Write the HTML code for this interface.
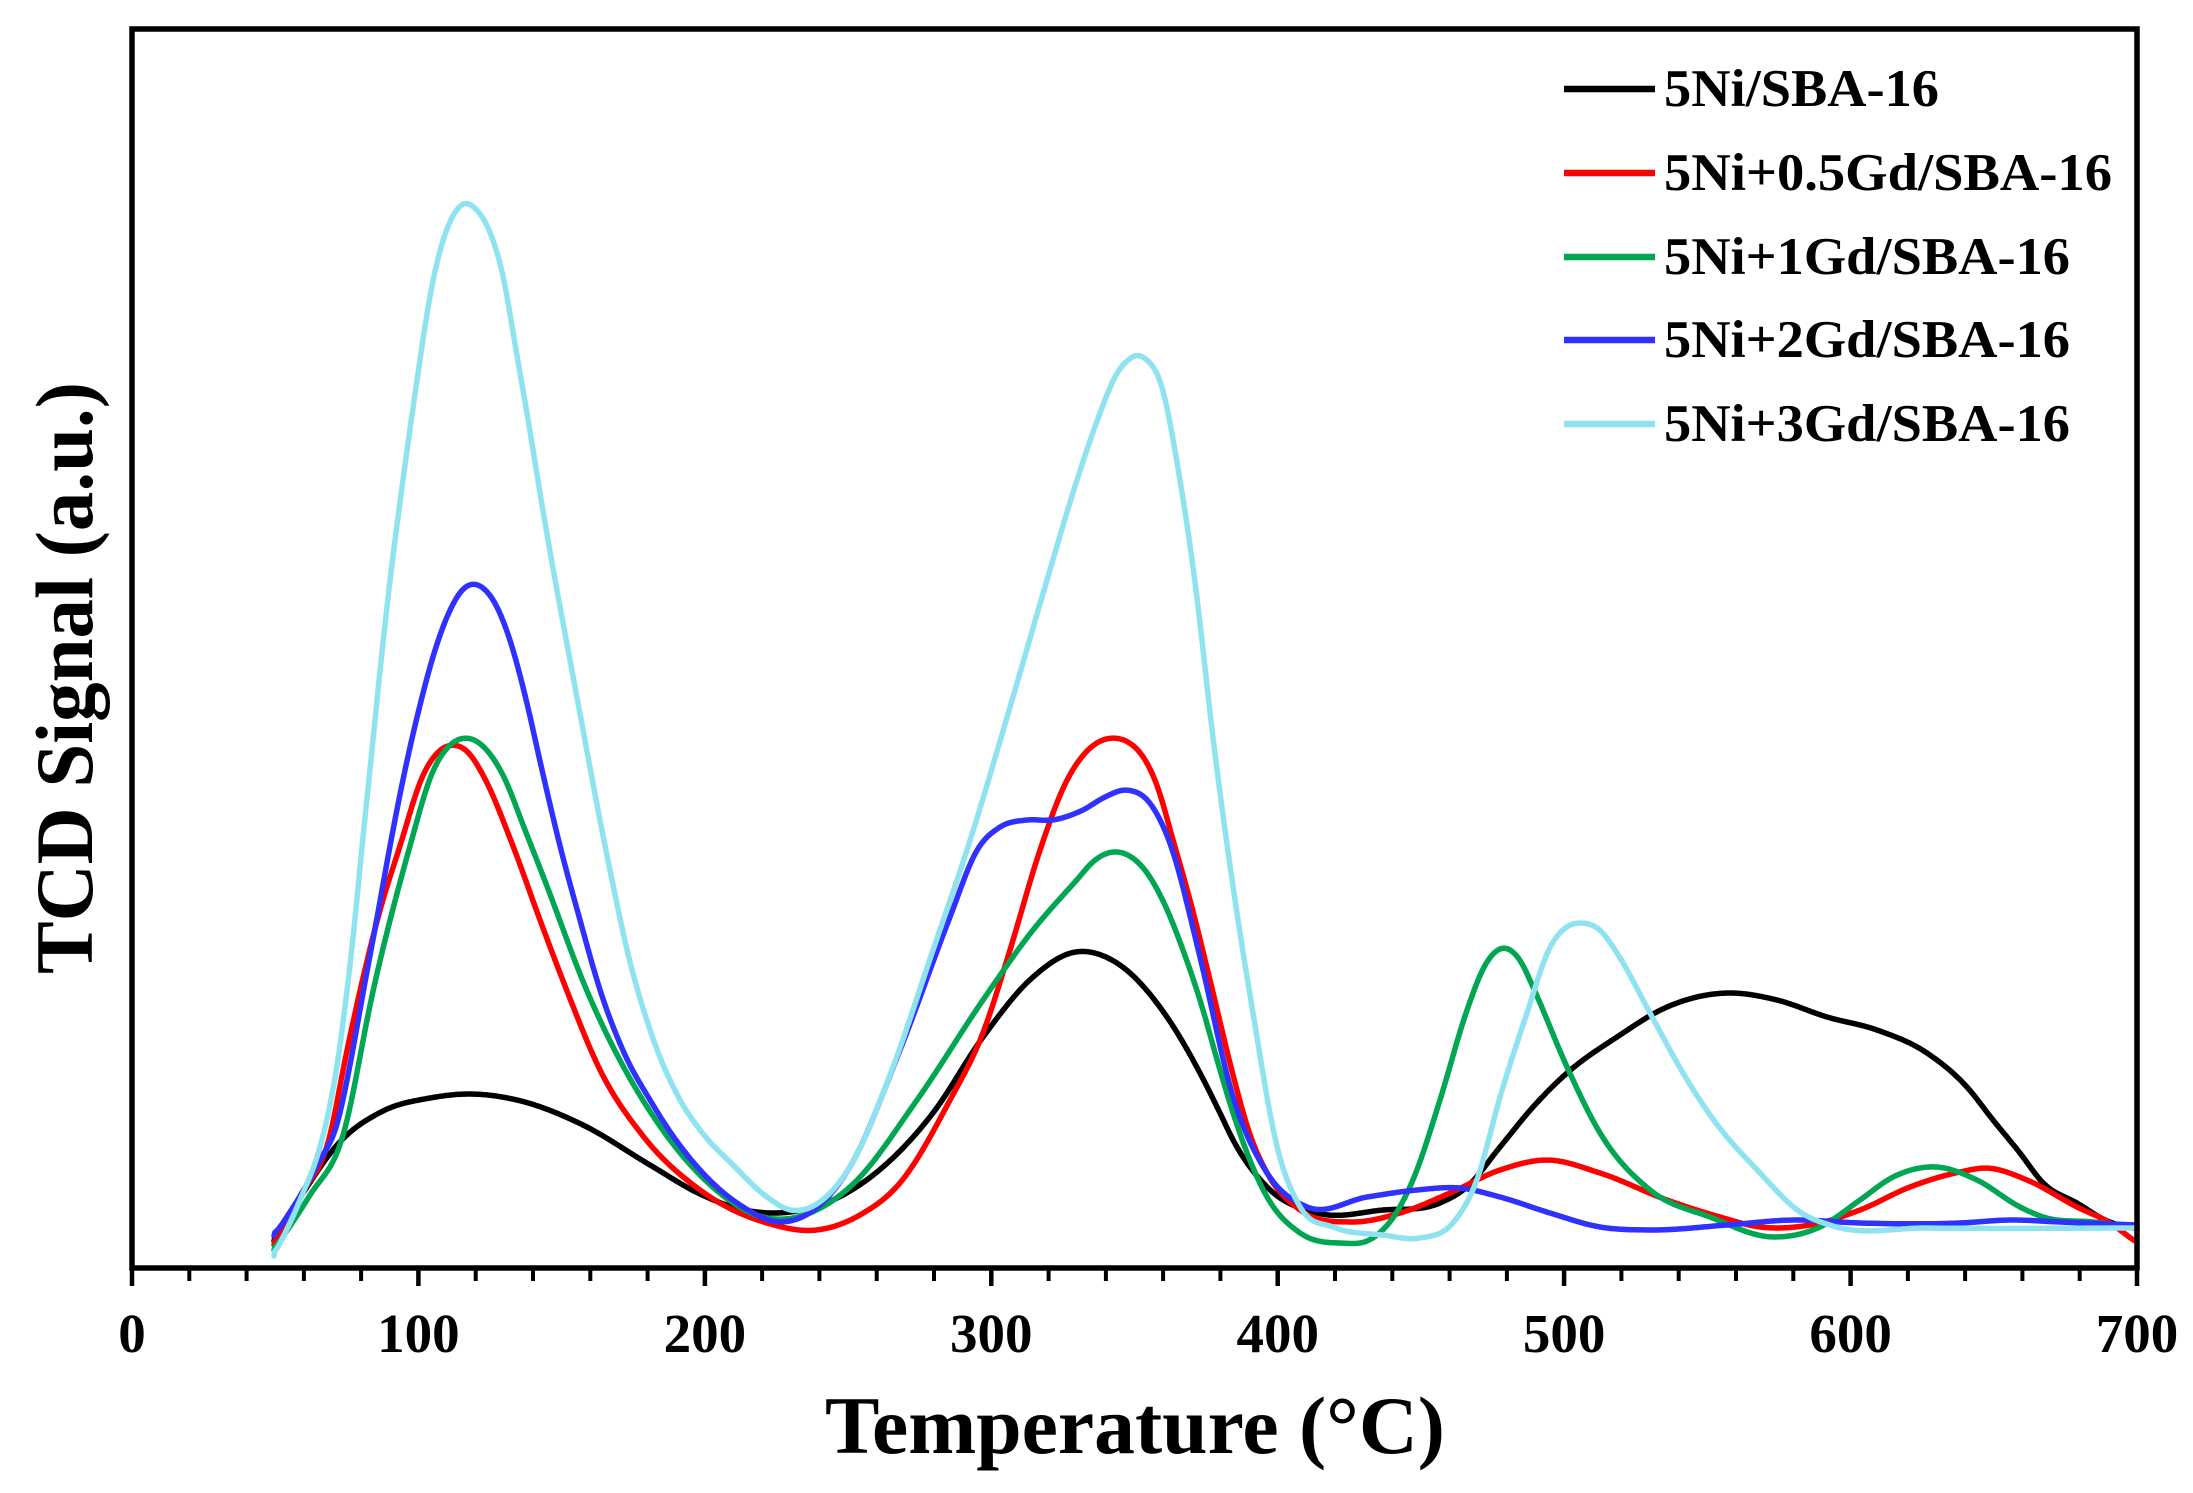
<!DOCTYPE html>
<html>
<head>
<meta charset="utf-8">
<style>
  html, body { margin: 0; padding: 0; background: #fff; }
  svg { display: block; }
  text { font-family: "Liberation Serif", "Times New Roman", serif; font-weight: bold; fill: #000; }
</style>
</head>
<body>
<svg id="chart" xmlns="http://www.w3.org/2000/svg" width="2193" height="1493" viewBox="0 0 2193 1493">
  <rect x="0" y="0" width="2193" height="1493" fill="#fff"/>

  <!-- curves -->
  <g fill="none" stroke-width="5.5" stroke-linejoin="round" stroke-linecap="round">
    <polyline class="crv" stroke="#000000" points="274,1241 305,1190 337,1145 383,1111 430,1098 467,1094 517,1100 583,1125 650,1165 700,1194 740,1209 777,1213 833,1200 883,1167 933,1113 983,1037 1033,977 1075,952 1117,963 1167,1017 1200,1073 1220,1113 1233,1140 1267,1187 1317,1213 1383,1210 1440,1203 1467,1187 1500,1147 1533,1107 1567,1073 1617,1037 1667,1007 1727,993 1777,1000 1827,1017 1877,1030 1927,1053 1967,1087 1993,1120 2020,1153 2043,1183 2077,1203 2107,1221 2137,1229"/>
    <polyline class="crv" stroke="#ff0000" points="274,1245 300,1196 330,1136 345,1060 360,991 380,910 400,846 423,775 438,752 453,745 468,752 483,775 513,846 540,920 567,991 600,1070 643,1136 700,1190 767,1223 817,1230 860,1215 900,1183 950,1100 983,1033 1010,950 1040,850 1067,780 1090,748 1113,738 1128,742 1142,755 1157,785 1173,840 1190,900 1210,980 1233,1075 1250,1135 1267,1173 1300,1210 1350,1222 1400,1213 1450,1193 1500,1170 1547,1160 1600,1173 1667,1200 1720,1217 1760,1227 1810,1225 1860,1210 1910,1187 1960,1172 1987,1168 2027,1180 2077,1207 2110,1223 2137,1243"/>
    <polyline class="crv" stroke="#00a651" points="274,1250 310,1195 343,1136 373,991 410,846 432,773 450,745 467,738 485,748 503,775 525,830 545,881 587,991 667,1136 700,1175 767,1218 850,1187 917,1100 983,1000 1033,930 1075,882 1095,860 1112,852 1128,855 1145,870 1165,905 1183,950 1200,1000 1220,1070 1233,1113 1267,1197 1300,1233 1340,1243 1373,1238 1395,1215 1413,1180 1440,1100 1467,1010 1485,965 1502,948 1520,960 1533,987 1567,1067 1600,1133 1650,1190 1710,1217 1773,1237 1820,1227 1860,1200 1893,1177 1937,1167 1977,1180 2020,1207 2043,1217 2093,1222 2137,1227"/>
    <polyline class="crv" stroke="#3030ff" points="274,1236 290,1212 305,1188 320,1160 337,1125 350,1065 363,993 377,918 390,846 405,770 420,705 435,650 450,610 462,590 472,584 482,587 495,603 510,640 525,695 542,770 560,846 580,920 600,990 625,1055 650,1100 673,1136 700,1170 740,1205 783,1222 820,1205 850,1167 900,1050 950,917 977,850 1000,827 1027,820 1053,820 1083,810 1105,797 1127,790 1150,803 1170,843 1200,957 1233,1097 1267,1173 1307,1207 1367,1197 1417,1190 1460,1188 1500,1197 1550,1213 1600,1227 1650,1230 1727,1225 1793,1220 1860,1223 1960,1223 2010,1220 2060,1222 2137,1225"/>
    <polyline class="crv" stroke="#8fe3f0" points="274,1256 300,1200 323,1136 338,1060 347,991 355,920 362,846 370,770 377,700 390,580 403,480 417,380 432,285 443,240 455,212 465,203 475,208 490,232 503,275 516,350 529,425 542,505 556,585 570,660 584,735 598,810 612,880 627,950 650,1030 680,1100 700,1130 733,1165 767,1197 790,1210 833,1190 850,1167 893,1067 933,950 967,850 1013,697 1047,580 1077,480 1100,413 1117,373 1128,360 1137,355 1147,360 1160,380 1180,480 1197,597 1212,730 1225,830 1235,900 1253,1013 1277,1147 1300,1207 1333,1227 1383,1235 1420,1238 1453,1223 1477,1180 1500,1097 1527,1013 1550,947 1565,928 1582,923 1600,930 1617,953 1650,1013 1683,1073 1710,1115 1760,1173 1800,1212 1833,1226 1927,1228 2137,1228"/>
  </g>

  <!-- frame -->
  <rect x="132" y="29" width="2005" height="1239" fill="none" stroke="#000" stroke-width="5.5"/>

  <!-- ticks -->
  <g id="ticks" stroke="#000" stroke-width="4"></g>

  <!-- tick labels -->
  <g font-size="55" text-anchor="middle">
    <text x="132" y="1352">0</text>
    <text x="418.4" y="1352">100</text>
    <text x="704.9" y="1352">200</text>
    <text x="991.3" y="1352">300</text>
    <text x="1277.7" y="1352">400</text>
    <text x="1564.1" y="1352">500</text>
    <text x="1850.6" y="1352">600</text>
    <text x="2137" y="1352">700</text>
  </g>

  <!-- axis titles -->
  <text x="1135" y="1453" font-size="82" text-anchor="middle" textLength="620" lengthAdjust="spacingAndGlyphs">Temperature (°C)</text>
  <text transform="translate(92,678) rotate(-90)" font-size="82" text-anchor="middle" textLength="592" lengthAdjust="spacingAndGlyphs">TCD Signal (a.u.)</text>

  <!-- legend -->
  <g stroke-width="6.5">
    <line x1="1564" y1="89" x2="1655" y2="89" stroke="#000000"/>
    <line x1="1564" y1="173" x2="1655" y2="173" stroke="#ff0000"/>
    <line x1="1564" y1="257" x2="1655" y2="257" stroke="#00a651"/>
    <line x1="1564" y1="340" x2="1655" y2="340" stroke="#3030ff"/>
    <line x1="1564" y1="424" x2="1655" y2="424" stroke="#8fe3f0"/>
  </g>
  <g font-size="53">
    <text x="1664" y="106" textLength="275" lengthAdjust="spacingAndGlyphs">5Ni/SBA-16</text>
    <text x="1664" y="190" textLength="448" lengthAdjust="spacingAndGlyphs">5Ni+0.5Gd/SBA-16</text>
    <text x="1664" y="274" textLength="406" lengthAdjust="spacingAndGlyphs">5Ni+1Gd/SBA-16</text>
    <text x="1664" y="357" textLength="406" lengthAdjust="spacingAndGlyphs">5Ni+2Gd/SBA-16</text>
    <text x="1664" y="441" textLength="406" lengthAdjust="spacingAndGlyphs">5Ni+3Gd/SBA-16</text>
  </g>
</svg>
<script>
(function(){
  var NS = "http://www.w3.org/2000/svg";
  // ticks
  var g = document.getElementById("ticks");
  var x0 = 132, sc = (2137 - 132) / 700;
  for (var t = 0; t <= 700; t += 20) {
    var x = x0 + t * sc;
    var major = (t % 100 === 0);
    var l = document.createElementNS(NS, "line");
    l.setAttribute("x1", x.toFixed(1));
    l.setAttribute("x2", x.toFixed(1));
    l.setAttribute("y1", "1268");
    l.setAttribute("y2", major ? "1286" : "1281");
    l.setAttribute("stroke-width", major ? "4.5" : "4");
    g.appendChild(l);
  }
  // cubic Hermite interpolation in x at 1px, then light Gaussian smoothing
  var sigma = 3, R = 9;
  var w = [];
  for (var k = -R; k <= R; k++) w.push(Math.exp(-k * k / (2 * sigma * sigma)));
  var pls = Array.prototype.slice.call(document.querySelectorAll("polyline.crv"));
  pls.forEach(function(pl){
    var pts = pl.getAttribute("points").trim().split(/\s+/).map(function(s){
      var a = s.split(","); return [parseFloat(a[0]), parseFloat(a[1])];
    });
    var N = pts.length, m = [];
    for (var i = 0; i < N; i++) {
      if (i === 0) m.push((pts[1][1] - pts[0][1]) / (pts[1][0] - pts[0][0]));
      else if (i === N - 1) m.push((pts[N-1][1] - pts[N-2][1]) / (pts[N-1][0] - pts[N-2][0]));
      else {
        var d0 = (pts[i][1] - pts[i-1][1]) / (pts[i][0] - pts[i-1][0]);
        var d1 = (pts[i+1][1] - pts[i][1]) / (pts[i+1][0] - pts[i][0]);
        var h0 = pts[i][0] - pts[i-1][0], h1 = pts[i+1][0] - pts[i][0];
        m.push((d0 * h1 + d1 * h0) / (h0 + h1));
      }
    }
    var xs = [], ys = [];
    var j = 0;
    var xa = pts[0][0], xb = pts[N - 1][0];
    for (var x = xa; x <= xb; x += 1) {
      while (j < N - 2 && pts[j + 1][0] < x) j++;
      var p1 = pts[j], p2 = pts[j + 1];
      var h = p2[0] - p1[0];
      var t = (x - p1[0]) / h;
      if (t < 0) t = 0; if (t > 1) t = 1;
      var t2 = t * t, t3 = t2 * t;
      var h00 = 2*t3 - 3*t2 + 1, h10 = t3 - 2*t2 + t, h01 = -2*t3 + 3*t2, h11 = t3 - t2;
      var y = h00 * p1[1] + h10 * h * m[j] + h01 * p2[1] + h11 * h * m[j + 1];
      xs.push(x); ys.push(y);
    }
    var n = ys.length, sm = [];
    for (var i = 0; i < n; i++) {
      var s = 0, ws = 0;
      for (var k = -R; k <= R; k++) {
        var ii = i + k;
        if (ii < 0 || ii >= n) continue;
        s += ys[ii] * w[k + R]; ws += w[k + R];
      }
      sm.push(s / ws);
    }
    sm[0] = ys[0]; sm[n - 1] = ys[n - 1];
    var d = "M" + xs[0] + "," + sm[0].toFixed(1);
    for (var i = 1; i < n; i++) d += " L" + xs[i] + "," + sm[i].toFixed(1);
    var p = document.createElementNS(NS, "path");
    p.setAttribute("d", d);
    p.setAttribute("stroke", pl.getAttribute("stroke"));
    pl.parentNode.replaceChild(p, pl);
  });
})();
</script>
</body>
</html>
